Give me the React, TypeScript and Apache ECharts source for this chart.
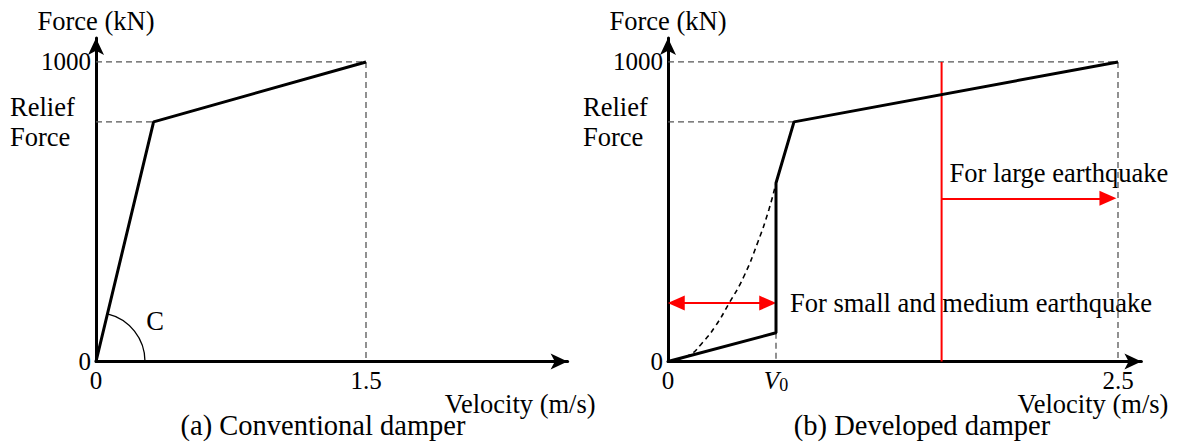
import React, { useEffect, useRef } from 'react';
import * as echarts from 'echarts';

const W = 1178;
const H = 445;
const FONT = 'Liberation Serif';
const FS = 26.5;
const TICK_FS = 25;
const CAP_FS = 28.5;

// ---- data ----
const convVelocity = [0, 0.32, 1.5];
const convForce = [0, 800, 1000];
const devVelocity = [0, 0.6, 0.6, 0.7, 2.5];
const devForce = [0, 96, 596, 800, 1000];
const viscVelocity = [0, 0.12, 0.19, 0.26, 0.34, 0.42, 0.5, 0.56, 0.6];
const viscForce = [0, 22, 62, 115, 195, 282, 400, 506, 596];
const reliefForce = 800;
const maxForce = 1000;
const convMaxVel = 1.5;
const devMaxVel = 2.5;
const v0 = 0.6;
const devKneeVel = 0.7;
const convKneeVel = 0.32;
const splitVel = 1.52;
const smallArrowForce = 195;
const largeArrowForce = 545;
const yTickValues = [0, 1000];
const convXTickValues = [0, 1.5];
const devXTickValues = [0, 0.6, 2.5];

const zip = (a: number[], b: number[]) => a.map((v, i) => [v, b[i]]);

const dashStyle = { color: '#555', width: 1.3, type: [6, 4] as any };
const blackStyle = { color: '#000', width: 3 };
const HEAD = 0.046; // half arrow-head length in velocity units

function xAxisCfg(gridIndex: number, max: number, ticks: number[]) {
  return {
    type: 'value',
    gridIndex,
    min: 0,
    max,
    splitLine: { show: false },
    axisTick: { show: false },
    axisLine: {
      show: true,
      symbol: ['none', 'arrow'],
      symbolSize: [12, 17],
      lineStyle: { color: '#000', width: 3 },
    },
    axisLabel: {
      customValues: ticks,
      margin: 6,
      color: '#000',
      fontFamily: FONT,
      fontSize: TICK_FS,
      formatter: (v: number) =>
        Math.abs(v - v0) < 1e-9 && gridIndex === 1 ? '{v|V}{s|0}' : String(v),
      rich: {
        v: { fontFamily: FONT, fontSize: TICK_FS, fontStyle: 'italic', color: '#000' },
        s: { fontFamily: FONT, fontSize: 18, color: '#000', padding: [8, 0, 0, 0] },
      },
    },
  };
}

function yAxisCfg(gridIndex: number) {
  return {
    type: 'value',
    gridIndex,
    min: 0,
    max: 1080,
    name: 'Force (kN)',
    nameLocation: 'end',
    nameGap: 4,
    nameTextStyle: { color: '#000', fontFamily: FONT, fontSize: FS, align: 'center' },
    splitLine: { show: false },
    axisTick: { show: false },
    axisLine: {
      show: true,
      symbol: ['none', 'arrow'],
      symbolSize: [12, 17],
      lineStyle: { color: '#000', width: 3 },
    },
    axisLabel: {
      customValues: yTickValues,
      margin: 5,
      color: '#000',
      fontFamily: FONT,
      fontSize: TICK_FS,
      formatter: (v: number) => String(v),
    },
  };
}

export default function App() {
  const ref = useRef<HTMLDivElement>(null);
  useEffect(() => {
    const chart = echarts.init(ref.current!, null, { renderer: 'svg', width: W, height: H });
    const option: any = {
      animation: false,
      backgroundColor: '#fff',
      textStyle: { fontFamily: FONT },
      grid: [
        { left: 96, top: 38, width: 471.6, height: 323.5 },
        { left: 668, top: 38, width: 473.4, height: 323.5 },
      ],
      xAxis: [xAxisCfg(0, 2.62, convXTickValues), xAxisCfg(1, 2.63, devXTickValues)],
      yAxis: [yAxisCfg(0), yAxisCfg(1)],
      series: [
        {
          type: 'line', xAxisIndex: 0, yAxisIndex: 0, symbol: 'none', silent: true,
          lineStyle: dashStyle,
          data: [[0, maxForce], [convMaxVel, maxForce], [convMaxVel, 0]],
        },
        {
          type: 'line', xAxisIndex: 0, yAxisIndex: 0, symbol: 'none', silent: true,
          lineStyle: dashStyle,
          data: [[0, reliefForce], [convKneeVel, reliefForce]],
        },
        {
          type: 'line', xAxisIndex: 0, yAxisIndex: 0, symbol: 'none', silent: true,
          lineStyle: blackStyle, z: 5,
          data: zip(convVelocity, convForce),
        },
        {
          type: 'line', xAxisIndex: 1, yAxisIndex: 1, symbol: 'none', silent: true,
          lineStyle: dashStyle,
          data: [[0, maxForce], [devMaxVel, maxForce], [devMaxVel, 0]],
        },
        {
          type: 'line', xAxisIndex: 1, yAxisIndex: 1, symbol: 'none', silent: true,
          lineStyle: dashStyle,
          data: [[0, reliefForce], [devKneeVel, reliefForce]],
        },
        {
          type: 'line', xAxisIndex: 1, yAxisIndex: 1, symbol: 'none', silent: true,
          lineStyle: dashStyle,
          data: [[v0, devForce[1]], [v0, 0]],
        },
        {
          type: 'line', xAxisIndex: 1, yAxisIndex: 1, symbol: 'none', silent: true,
          smooth: true,
          lineStyle: { color: '#000', width: 1.6, type: [5, 4] },
          data: zip(viscVelocity, viscForce),
        },
        {
          type: 'line', xAxisIndex: 1, yAxisIndex: 1, symbol: 'none', silent: true,
          lineStyle: { color: '#ff0000', width: 2 },
          z: 4,
          data: [[splitVel, 0], [splitVel, maxForce]],
          markLine: {
            silent: true,
            symbol: ['none', 'triangle'],
            symbolSize: [15, 17],
            label: { show: false },
            lineStyle: { color: '#ff0000', width: 2, type: 'solid' },
            itemStyle: { color: '#ff0000' },
            emphasis: { disabled: true },
            data: [
              [
                { coord: [splitVel, largeArrowForce] },
                { coord: [devMaxVel - 0.01 - HEAD, largeArrowForce] },
              ],
              [
                { coord: [HEAD, smallArrowForce], symbol: 'triangle' },
                { coord: [v0 - HEAD, smallArrowForce], symbol: 'triangle' },
              ],
            ],
          },
        },
        {
          type: 'line', xAxisIndex: 1, yAxisIndex: 1, symbol: 'none', silent: true,
          lineStyle: blackStyle, z: 5,
          data: zip(devVelocity, devForce),
        },
      ],
    };
    chart.setOption(option);

    const p = (g: number, v: number[]) => chart.convertToPixel({ gridIndex: g }, v) as number[];
    const o0 = p(0, [0, 0]);
    const k0 = p(0, [convKneeVel, reliefForce]);
    const ang = Math.atan2(k0[1] - o0[1], k0[0] - o0[0]);
    const txt = (x: number, y: number, text: string, align = 'left', size = FS) => ({
      type: 'text',
      x,
      y,
      silent: true,
      style: {
        text,
        fill: '#000',
        fontFamily: FONT,
        fontSize: size,
        align,
        verticalAlign: 'middle',
      },
    });
    const r0 = p(0, [0, reliefForce]);
    const r1 = p(1, [0, reliefForce]);
    const sa = p(1, [v0, smallArrowForce]);
    const la = p(1, [splitVel, largeArrowForce]);
    const xe0 = p(0, [2.62, 0]);
    const xe1 = p(1, [2.63, 0]);
    chart.setOption({
      graphic: [
        {
          type: 'arc',
          silent: true,
          shape: { cx: o0[0], cy: o0[1], r: 49, startAngle: ang, endAngle: 0, clockwise: true },
          style: { stroke: '#000', lineWidth: 1.3, fill: 'none' },
        },
        txt(o0[0] + 59, o0[1] - 41, 'C', 'center'),
        txt(r0[0] - 86, r0[1] - 15, 'Relief'),
        txt(r0[0] - 86, r0[1] + 15, 'Force'),
        txt(r1[0] - 85, r1[1] - 15, 'Relief'),
        txt(r1[0] - 85, r1[1] + 15, 'Force'),
        txt(sa[0] + 14, sa[1], 'For small and medium earthquake'),
        txt(la[0] + 8, la[1] - 25, 'For large earthquake'),
        txt(xe0[0] + 28, xe0[1] + 42, 'Velocity (m/s)', 'right'),
        txt(xe1[0] + 27, xe1[1] + 42, 'Velocity (m/s)', 'right'),
        txt(323, 425, '(a) Conventional damper', 'center', CAP_FS),
        txt(922, 425, '(b) Developed damper', 'center', CAP_FS),
      ],
    });
    return () => chart.dispose();
  }, []);
  return (
    <div
      ref={ref}
      style={{ position: 'fixed', left: 0, top: 0, width: W, height: H, background: '#fff' }}
    />
  );
}
